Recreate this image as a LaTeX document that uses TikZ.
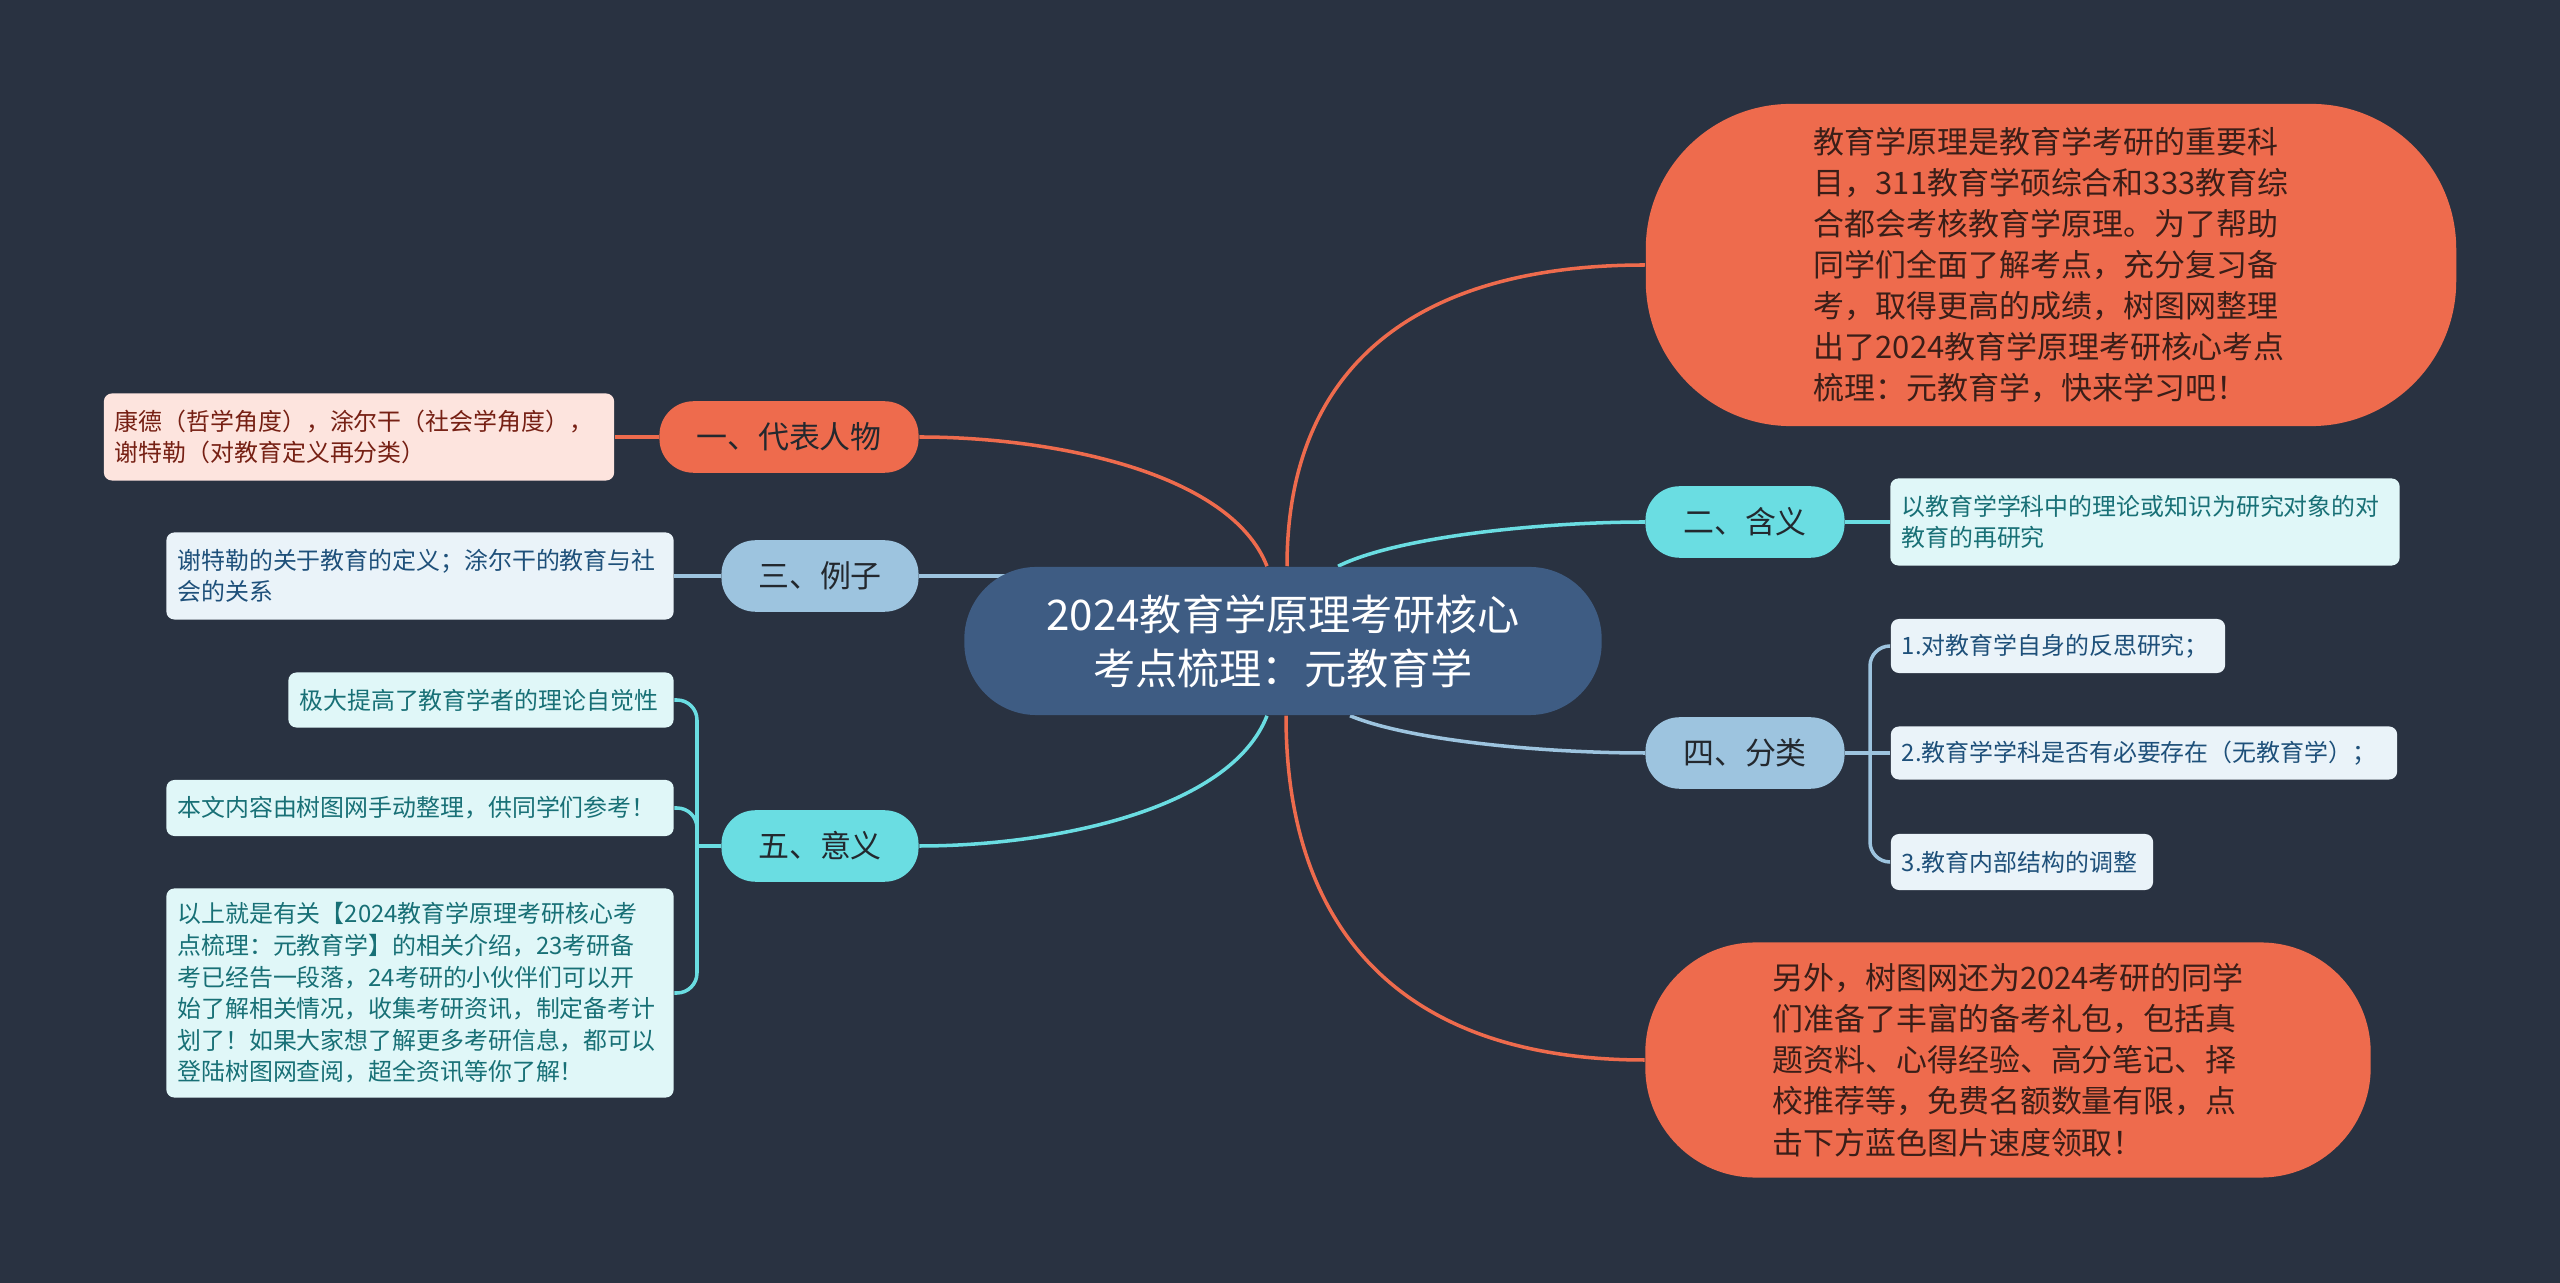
\documentclass[tikz,border=0pt]{standalone}
\usepackage{fontspec}
\setmainfont{Noto Sans CJK SC}
\usepackage{tikz}
\definecolor{mmnavy}{RGB}{41,50,65}
\definecolor{mmroot}{RGB}{62,92,131}
\definecolor{mmorange}{RGB}{238,107,77}
\definecolor{mmcyan}{RGB}{106,221,226}
\definecolor{mmsky}{RGB}{157,196,223}
\definecolor{mmpink}{RGB}{253,228,222}
\definecolor{mmpale}{RGB}{234,243,249}
\definecolor{mmmint}{RGB}{224,247,248}
\definecolor{mmink}{RGB}{35,40,46}
\definecolor{mmbrown}{RGB}{58,30,24}
\definecolor{mmmaroon}{RGB}{118,32,20}
\definecolor{mmblue}{RGB}{30,80,122}
\definecolor{mmteal}{RGB}{24,112,118}
\pgfdeclarelayer{back}
\pgfdeclarelayer{links}
\pgfsetlayers{back,links,main}

\begin{document}
\begin{tikzpicture}[x=0.01cm,y=-0.01cm,
  rootbox/.style={fill=mmroot,text=white,rounded corners=0.72cm,minimum width=6.37cm,
                  minimum height=1.48cm,align=center,inner sep=0pt,
                  font=\fontsize{12}{15.4}\selectfont},
  bigbox/.style={fill=mmorange,text=mmbrown,align=left,inner sep=0pt,
                 font=\fontsize{8.8}{11.7}\selectfont},
  topic/.style={rounded corners=0.34cm,minimum height=0.715cm,inner sep=0pt,
                text=mmink,font=\fontsize{8.8}{11}\selectfont},
  leaf/.style={rounded corners=0.08cm,inner xsep=0.11cm,inner ysep=0pt,align=left,
               font=\fontsize{6.8}{9}\selectfont},
  link/.style={line width=1pt}]
  \useasboundingbox (0,0) rectangle (2560,1283);

  % centre
  \node[rootbox] (root) at (1283,641) {2024教育学原理考研核心\\考点梳理：元教育学};

  % right side
  \node[bigbox,rounded corners=1.45cm,minimum width=8.10cm,minimum height=3.22cm] (intro) at (2051,265)
    {教育学原理是教育学考研的重要科\\目，311教育学硕综合和333教育综\\合都会考核教育学原理。为了帮助\\同学们全面了解考点，充分复习备\\考，取得更高的成绩，树图网整理\\出了2024教育学原理考研核心考点\\梳理：元教育学，快来学习吧！};
  \node[bigbox,rounded corners=1.1cm,minimum width=7.25cm,minimum height=2.35cm] (gift) at (2008,1060)
    {另外，树图网还为2024考研的同学\\们准备了丰富的备考礼包，包括真\\题资料、心得经验、高分笔记、择\\校推荐等，免费名额数量有限，点\\击下方蓝色图片速度领取！};
  \node[topic,fill=mmcyan,minimum width=1.99cm] (hanyi) at (1745,522) {二、含义};
  \node[topic,fill=mmsky,minimum width=1.99cm] (fenlei) at (1745,753) {四、分类};
  \node[leaf,fill=mmmint,text=mmteal,text width=4.87cm,minimum height=0.87cm] (hanyitxt) at (2145,522)
    {以教育学学科中的理论或知识为研究对象的对\\教育的再研究};
  \node[leaf,fill=mmpale,text=mmblue,text width=3.12cm,minimum height=0.54cm] (fl1) at (2058,646)
    {1.对教育学自身的反思研究；};
  \node[leaf,fill=mmpale,text=mmblue,text width=4.84cm,minimum height=0.53cm] (fl2) at (2144,753)
    {2.教育学学科是否有必要存在（无教育学）；};
  \node[leaf,fill=mmpale,text=mmblue,text width=2.40cm,minimum height=0.56cm] (fl3) at (2022,862)
    {3.教育内部结构的调整};

  % left side
  \node[topic,fill=mmorange,minimum width=2.59cm] (daibiao) at (789,437) {一、代表人物};
  \node[topic,fill=mmsky,minimum width=1.97cm] (lizi) at (820,576) {三、例子};
  \node[topic,fill=mmcyan,minimum width=1.97cm] (yiyi) at (820,846) {五、意义};
  \node[leaf,fill=mmpink,text=mmmaroon,text width=4.88cm,minimum height=0.87cm] (kangde) at (359,437)
    {康德（哲学角度），涂尔干（社会学角度），\\谢特勒（对教育定义再分类）};
  \node[leaf,fill=mmpale,text=mmblue,text width=4.85cm,minimum height=0.87cm] (lizitxt) at (420,576)
    {谢特勒的关于教育的定义；涂尔干的教育与社\\会的关系};
  \node[leaf,fill=mmmint,text=mmteal,text width=3.63cm,minimum height=0.55cm] (yy1) at (481,700)
    {极大提高了教育学者的理论自觉性};
  \node[leaf,fill=mmmint,text=mmteal,text width=4.85cm,minimum height=0.56cm] (yy2) at (420,808)
    {本文内容由树图网手动整理，供同学们参考！};
  \node[leaf,fill=mmmint,text=mmteal,text width=4.85cm,minimum height=2.09cm] (yy3) at (420,993)
    {以上就是有关【2024教育学原理考研核心考\\点梳理：元教育学】的相关介绍，23考研备\\考已经告一段落，24考研的小伙伴们可以开\\始了解相关情况，收集考研资讯，制定备考计\\划了！如果大家想了解更多考研信息，都可以\\登陆树图网查阅，超全资讯等你了解！};

  \coordinate (fj) at (1870,753);
  \coordinate (yj) at (697,846);

  \begin{pgfonlayer}{links}
    \draw[link,mmorange] ([xshift=-0.16cm]root.north) .. controls +(-37,-95) and +(131,0) .. (daibiao.east);
    \draw[link,mmcyan] ([xshift=-0.16cm]root.south) .. controls +(-37,95) and +(131,0) .. (yiyi.east);
    \draw[link,mmsky] (lizi.east) -- (lizi.east -| root.center);
    \draw[link,mmorange] ([xshift=0.04cm]root.north) .. controls +(0,-195) and +(-235,0) .. (intro.west);
    \draw[link,mmcyan] ([xshift=0.55cm]root.north) .. controls +(60,-30) and +(-100,0) .. (hanyi.west);
    \draw[link,mmsky] ([xshift=0.67cm]root.south) .. controls +(60,25) and +(-100,0) .. (fenlei.west);
    \draw[link,mmorange] ([xshift=0.03cm]root.south) .. controls +(0,222) and +(-235,0) .. (gift.west);

    \draw[link,mmorange] (daibiao.west) -- (kangde.east);
    \draw[link,mmsky] (lizi.west) -- (lizitxt.east);
    \draw[link,mmcyan] (hanyi.east) -- (hanyitxt.west);

    \draw[link,mmsky] (fenlei.east) -- (fl2.west);
    \draw[link,mmsky,rounded corners=0.2cm] (fj) |- (fl1.west);
    \draw[link,mmsky,rounded corners=0.2cm] (fj) |- (fl3.west);

    \draw[link,mmcyan] (yiyi.west) -- (yj);
    \draw[link,mmcyan,rounded corners=0.2cm] (yj) |- (yy1.east);
    \draw[link,mmcyan,rounded corners=0.2cm] (yj) |- (yy2.east);
    \draw[link,mmcyan,rounded corners=0.2cm] (yj) |- (yy3.east);
  \end{pgfonlayer}

  \begin{pgfonlayer}{back}
    \fill[mmnavy] (0,0) rectangle (2560,1283);
  \end{pgfonlayer}
\end{tikzpicture}
\end{document}
